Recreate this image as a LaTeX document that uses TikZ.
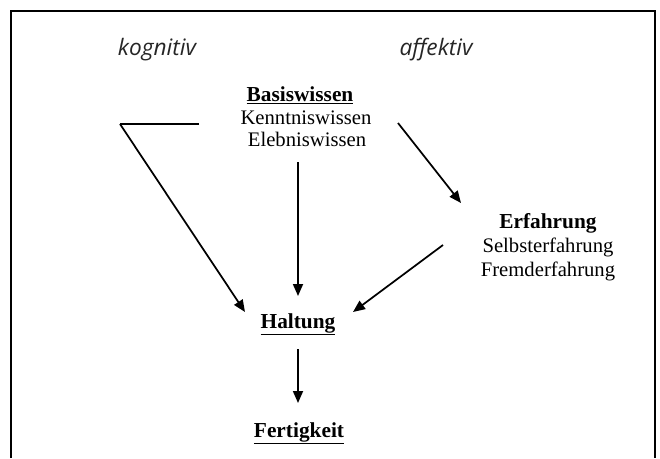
\documentclass[tikz,border=0pt]{standalone}
\usepackage{fontspec}
\setmainfont{Liberation Serif}
\newfontfamily\labsans{Open Sans}
\usetikzlibrary{arrows.meta}
\begin{document}
\begin{tikzpicture}[x=0.75pt,y=-0.75pt,
  frame/.style={line width=2pt},
  conn/.style={line width=1.3pt},
  arr/.style={conn,-{Triangle[length=9pt,width=7.5pt]}},
  head/.style={anchor=base,inner sep=0pt,font=\fontsize{16}{18}\selectfont\bfseries},
  txt/.style={anchor=base,inner sep=0pt,font=\fontsize{15.5}{18}\selectfont},
  dom/.style={anchor=base,inner sep=0pt,text=black!85,font=\labsans\itshape\fontsize{17}{20}\selectfont}]
\useasboundingbox (0,0) rectangle (660,458);
\draw[frame] (11,458) -- (11,11) -- (655,11) -- (655,458);
% labels
\node[dom] (kog) at (157,55) {kognitiv};
\node[dom] (aff) at (436,55) {affektiv};
\node[head] (bw) at (300,101) {\underline{Basiswissen}};
\node[txt] (kw) at (306,124) {Kenntniswissen};
\node[txt] (ew) at (307,146) {Elebniswissen};
\node[head] (erf) at (548,228) {Erfahrung};
\node[txt] (sef) at (548,252) {Selbsterfahrung};
\node[txt] (fef) at (548,276) {Fremderfahrung};
\node[head] (hal) at (298,328) {\underline{Haltung}};
\node[head] (fer) at (299,437) {\underline{Fertigkeit}};
% connector points
\coordinate (hl) at (199,124);
\coordinate (corner) at (120,124);
\coordinate (hL) at (245,312);
\coordinate (vTop) at (298,162);
\coordinate (hT) at (298,296);
\coordinate (bR) at (398,123);
\coordinate (eT) at (461,203);
\coordinate (eB) at (443,245);
\coordinate (hR) at (353,312);
\coordinate (hB) at (298,349);
\coordinate (fT) at (298,403);
% connectors
\draw[conn] (hl) -- (corner);
\draw[arr] (corner) -- (hL);
\draw[arr] (vTop) -- (hT);
\draw[arr] (bR) -- (eT);
\draw[arr] (eB) -- (hR);
\draw[arr] (hB) -- (fT);
\end{tikzpicture}
\end{document}
